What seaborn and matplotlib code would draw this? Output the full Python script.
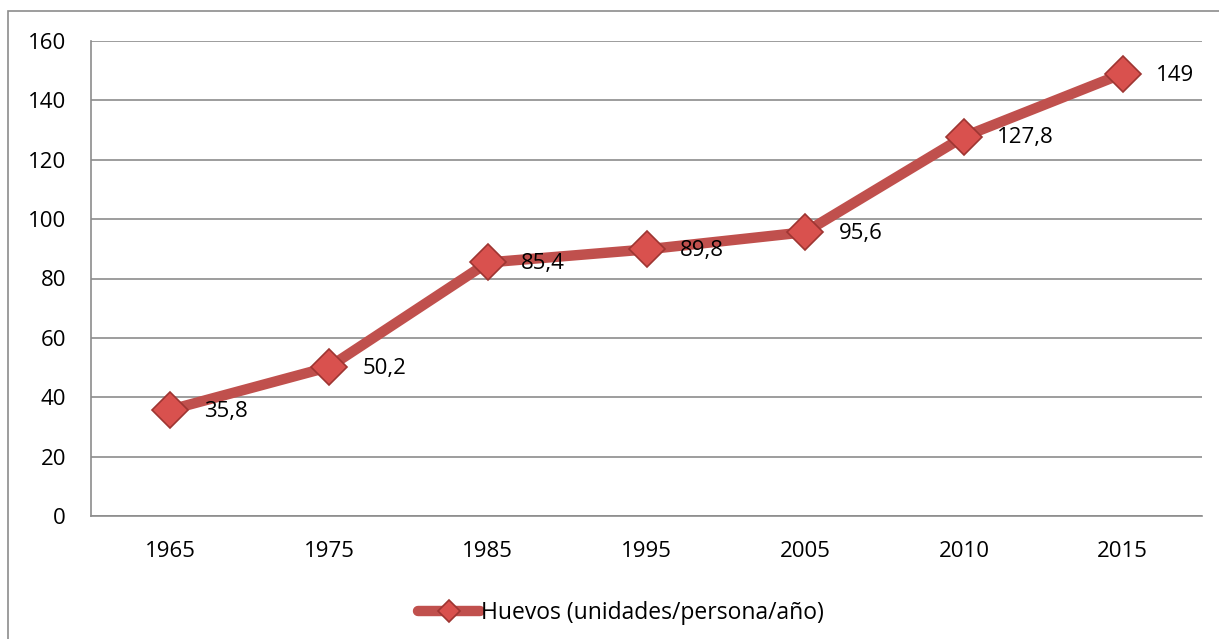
import pandas as pd
import numpy as np
import matplotlib.pyplot as plt
import seaborn as sns
from matplotlib.patches import Rectangle

years = ['1965', '1975', '1985', '1995', '2005', '2010', '2015']
huevos = [35.8, 50.2, 85.4, 89.8, 95.6, 127.8, 149]
etiquetas = ['35,8', '50,2', '85,4', '89,8', '95,6', '127,8', '149']
serie = 'Huevos (unidades/persona/año)'

df = pd.DataFrame({'Año': years, 'Valor': huevos})

sns.set_style('white')
plt.rcParams['font.family'] = ['Open Sans', 'DejaVu Sans']
plt.rcParams['text.color'] = 'black'
plt.rcParams['xtick.color'] = 'black'
plt.rcParams['ytick.color'] = 'black'

fig = plt.figure(figsize=(12.19, 6.39), dpi=100)
ax = fig.add_axes([91 / 1219, 1 - 516 / 639, 1111 / 1219, 475 / 639])

# marco exterior del grafico
fig.patches.append(Rectangle((8 / 1219, -0.1), 1.2, 1 - 11 / 639 + 0.1,
                             transform=fig.transFigure, fill=False,
                             edgecolor='#8c8c8c', linewidth=1.2))

sns.lineplot(data=df, x='Año', y='Valor', ax=ax, sort=False,
             color='#C0504D', linewidth=7.5, marker='D', markersize=18,
             markerfacecolor='#D9514E', markeredgecolor='#9E3532',
             markeredgewidth=1.2, label=serie, solid_capstyle='round')

for i, (v, t) in enumerate(zip(huevos, etiquetas)):
    ax.annotate(t, (i, v), xytext=(24, -1), textcoords='offset points',
                ha='left', va='center', fontsize=16, color='black')

ax.set_xlim(-0.5, 6.5)
ax.set_ylim(0, 160)
ax.set_yticks(np.arange(0, 161, 20))
ax.yaxis.grid(True, color='#8c8c8c', linewidth=1.2)
ax.set_axisbelow(True)
ax.set_xlabel('')
ax.set_ylabel('')
for s in ['top', 'right']:
    ax.spines[s].set_visible(False)
for s in ['left', 'bottom']:
    ax.spines[s].set_color('#8c8c8c')
    ax.spines[s].set_linewidth(1.2)
ax.tick_params(axis='both', length=0, labelsize=16, pad=18)

leg = ax.legend(loc='upper center', bbox_to_anchor=(0.477, -0.135), frameon=False,
                fontsize=16.5, handlelength=2.7, handletextpad=0.05, markerscale=0.6)

fig.savefig('out.png', dpi=100)
